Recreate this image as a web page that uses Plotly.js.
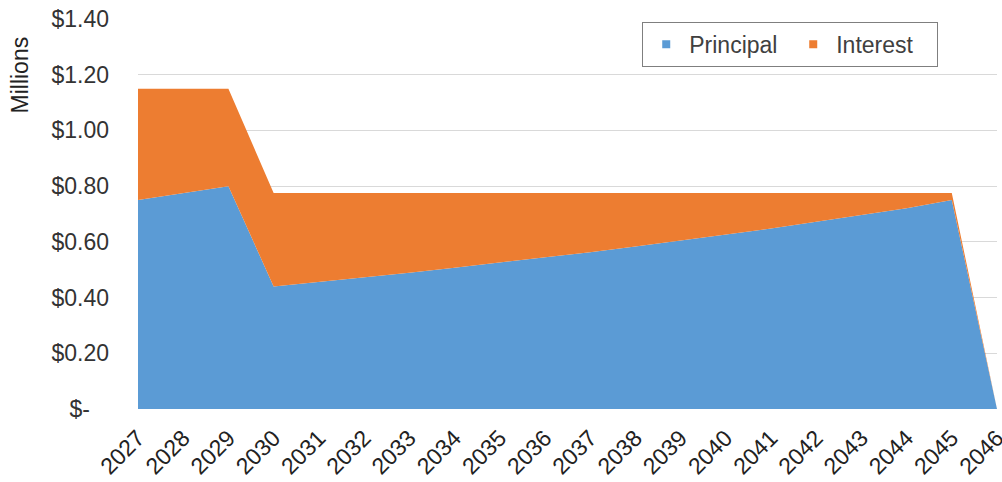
<!DOCTYPE html>
<html>
<head>
<meta charset="utf-8">
<script src="https://cdn.plot.ly/plotly-3.0.1.min.js"></script>
<style>html,body{margin:0;padding:0;background:#fff;}#chart{width:1002px;height:482px;}</style>
</head>
<body>
<div id="chart"></div>
<script>
const years = ["2027","2028","2029","2030","2031","2032","2033","2034","2035","2036","2037","2038","2039","2040","2041","2042","2043","2044","2045","2046"];
const principal = [0.750,0.775,0.800,0.440,0.456,0.472,0.489,0.507,0.525,0.544,0.563,0.583,0.604,0.626,0.648,0.672,0.696,0.721,0.750,0.000];
const interest  = [0.400,0.375,0.350,0.335,0.319,0.303,0.286,0.268,0.250,0.231,0.212,0.192,0.171,0.149,0.127,0.103,0.079,0.054,0.025,0.000];
const yTickVals = [0,0.2,0.4,0.6,0.8,1.0,1.2,1.4];
const yTickText = ["$-\u00a0\u00a0\u00a0","$0.20","$0.40","$0.60","$0.80","$1.00","$1.20","$1.40"];
const seriesNames = ["Principal","Interest"];
const colors = ["#5B9BD5","#ED7D31"];

const font = "Liberation Sans, Arial, sans-serif";
const traces = [
  {x: years, y: principal, name: seriesNames[0], type: "scatter", mode: "lines", stackgroup: "one",
   line: {width: 0, color: colors[0]}, fillcolor: colors[0], showlegend: false, hoverinfo: "x+y"},
  {x: years, y: interest, name: seriesNames[1], type: "scatter", mode: "lines", stackgroup: "one",
   line: {width: 0, color: colors[1]}, fillcolor: colors[1], showlegend: false, hoverinfo: "x+y"},
  {x: [null], y: [null], name: seriesNames[0], type: "scatter", mode: "markers",
   marker: {symbol: "square", size: 8, color: colors[0]}},
  {x: [null], y: [null], name: seriesNames[1], type: "scatter", mode: "markers",
   marker: {symbol: "square", size: 8, color: colors[1]}}
];

const layout = {
  width: 1002, height: 482,
  margin: {l: 138, r: 5, t: 19, b: 73, autoexpand: false},
  paper_bgcolor: "#fff", plot_bgcolor: "#fff",
  font: {family: font, size: 23, color: "#333"},
  showlegend: true,
  legend: {
    orientation: "h", x: 0.587, y: 0.993, xanchor: "left", yanchor: "top",
    bgcolor: "#fff", bordercolor: "#7f7f7f", borderwidth: 1,
    font: {family: font, size: 23, color: "#404040"},
    itemwidth: 36, entrywidth: 96, traceorder: "normal"
  },
  xaxis: {
    type: "category", range: [0, 19], tickangle: -45,
    showgrid: false, zeroline: false, showline: false, ticks: "",
    ticklabelstandoff: 10,
    tickfont: {family: font, size: 23, color: "#222"},
    automargin: false, fixedrange: true
  },
  yaxis: {
    range: [0, 1.4], tickvals: yTickVals, ticktext: yTickText,
    showgrid: true, gridcolor: "#D9D9D9", gridwidth: 1,
    zeroline: false, showline: false, ticks: "",
    ticklabelstandoff: 28,
    tickfont: {family: font, size: 23, color: "#333"},
    automargin: false, fixedrange: true
  },
  annotations: [{
    text: "Millions", textangle: -90, xref: "paper", yref: "paper",
    x: -0.137, y: 0.856, xanchor: "center", yanchor: "middle", showarrow: false,
    font: {family: font, size: 23, color: "#222"}
  }]
};

Plotly.newPlot("chart", traces, layout, {displayModeBar: false, staticPlot: true});
</script>
</body>
</html>
